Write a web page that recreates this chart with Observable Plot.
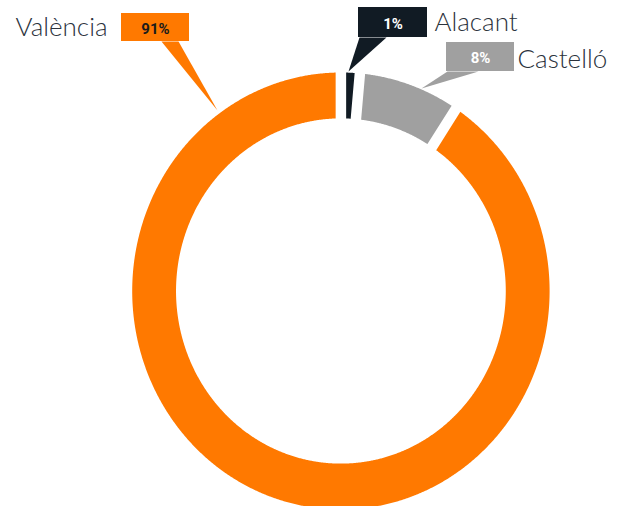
<!DOCTYPE html>
<html>
<head>
<meta charset="utf-8">
<script src="https://cdn.jsdelivr.net/npm/d3@7"></script>
<script src="https://cdn.jsdelivr.net/npm/@observablehq/plot@0.6"></script>
<style>
  html, body { margin: 0; padding: 0; background: #fff; overflow: hidden; }
  svg { overflow: hidden; }
</style>
</head>
<body>
<div id="chart"></div>
<script>
// ---- data ----
const regions = ["Alacant", "Castelló", "València"];
const shares = [1.45, 7.85, 90.7];          // % (estimated from the ring)
const shareLabels = ["1%", "8%", "91%"];    // as printed
const colors = ["#111b24", "#a0a0a0", "#ff7900"];
const boxTextColors = ["#ffffff", "#ffffff", "#1b1b1b"];

// ---- layout (pixels) ----
const W = 617, H = 506;
const xRange = [131.7, 549.1];   // x = -1 .. 1
const yRange = [509, 72];        // y = -1 .. 1
const innerR = 0.79;
const gapPx = 10.5;
const callouts = {
  "Alacant":  {box: [358, 7, 427, 37],  tail: [[359, 37], [386, 37], [348, 71]], name: [434, 22.5, "start"]},
  "Castelló": {box: [446, 42, 514, 71], tail: [[447, 71], [478, 71], [421, 88]], name: [517, 59, "start"]},
  "València": {box: [121, 13, 189, 41], tail: [[161, 41], [178, 41], [217, 110]], name: [107, 27.5, "end"]}
};

const cx = (xRange[0] + xRange[1]) / 2, Rx = (xRange[1] - xRange[0]) / 2;
const cy = (yRange[0] + yRange[1]) / 2, Ry = (yRange[0] - yRange[1]) / 2;
const px = v => (v - cx) / Rx;
const py = v => (cy - v) / Ry;

// ---- ring sectors ----
const h = (gapPx / 2) / Rx;
const sectors = [];
let cum = 0;
regions.forEach((region, i) => {
  const a0 = cum / 100 * 2 * Math.PI;
  cum += shares[i];
  const a1 = cum / 100 * 2 * Math.PI;
  const oo = Math.asin(h / 1), io = Math.asin(h / innerR);
  const n = Math.max(4, Math.ceil((a1 - a0) / 0.005));
  for (let k = 0; k <= n; k++) {
    const a = (a0 + oo) + (a1 - a0 - 2 * oo) * k / n;
    sectors.push({region, x: Math.sin(a), y: Math.cos(a)});
  }
  for (let k = n; k >= 0; k--) {
    const a = (a0 + io) + (a1 - a0 - 2 * io) * k / n;
    sectors.push({region, x: innerR * Math.sin(a), y: innerR * Math.cos(a)});
  }
});

// ---- callouts ----
const boxes = regions.map((region, i) => {
  const b = callouts[region].box;
  return {region, label: shareLabels[i], tc: boxTextColors[i],
    x1: px(b[0]), x2: px(b[2]), y1: py(b[1]), y2: py(b[3]),
    xm: px((b[0] + b[2]) / 2), ym: py((b[1] + b[3]) / 2)};
});
const tails = regions.flatMap(region =>
  callouts[region].tail.map(([a, b]) => ({region, x: px(a), y: py(b)})));
const names = regions.map(region => {
  const [a, b, anchor] = callouts[region].name;
  return {region, x: px(a), y: py(b), anchor};
});

const nameStyle = {fill: "#2b323c", fontFamily: "Lato", fontWeight: 300, fontSize: 26, lineAnchor: "middle"};

const chart = Plot.plot({
  width: W,
  height: H,
  margin: 0,
  style: {background: "#fff", overflow: "hidden"},
  x: {domain: [-1, 1], range: xRange, axis: null},
  y: {domain: [-1, 1], range: yRange, axis: null},
  color: {domain: regions, range: colors},
  marks: [
    Plot.line(sectors, {x: "x", y: "y", z: "region", fill: "region", stroke: "none", curve: "linear"}),
    Plot.line(tails, {x: "x", y: "y", z: "region", fill: "region", stroke: "none", curve: "linear"}),
    Plot.rect(boxes, {x1: "x1", x2: "x2", y1: "y1", y2: "y2", fill: "region"}),
    Plot.text(boxes, {x: "xm", y: "ym", dy: 1.5, text: "label", fill: d => d.tc, fontFamily: "Roboto", fontWeight: 700, fontSize: 15, lineAnchor: "middle", textAnchor: "middle"}),
    Plot.text(names.filter(d => d.anchor === "start"), {x: "x", y: "y", text: "region", textAnchor: "start", ...nameStyle}),
    Plot.text(names.filter(d => d.anchor === "end"), {x: "x", y: "y", text: "region", textAnchor: "end", ...nameStyle})
  ]
});
document.getElementById("chart").appendChild(chart);
</script>
</body>
</html>
